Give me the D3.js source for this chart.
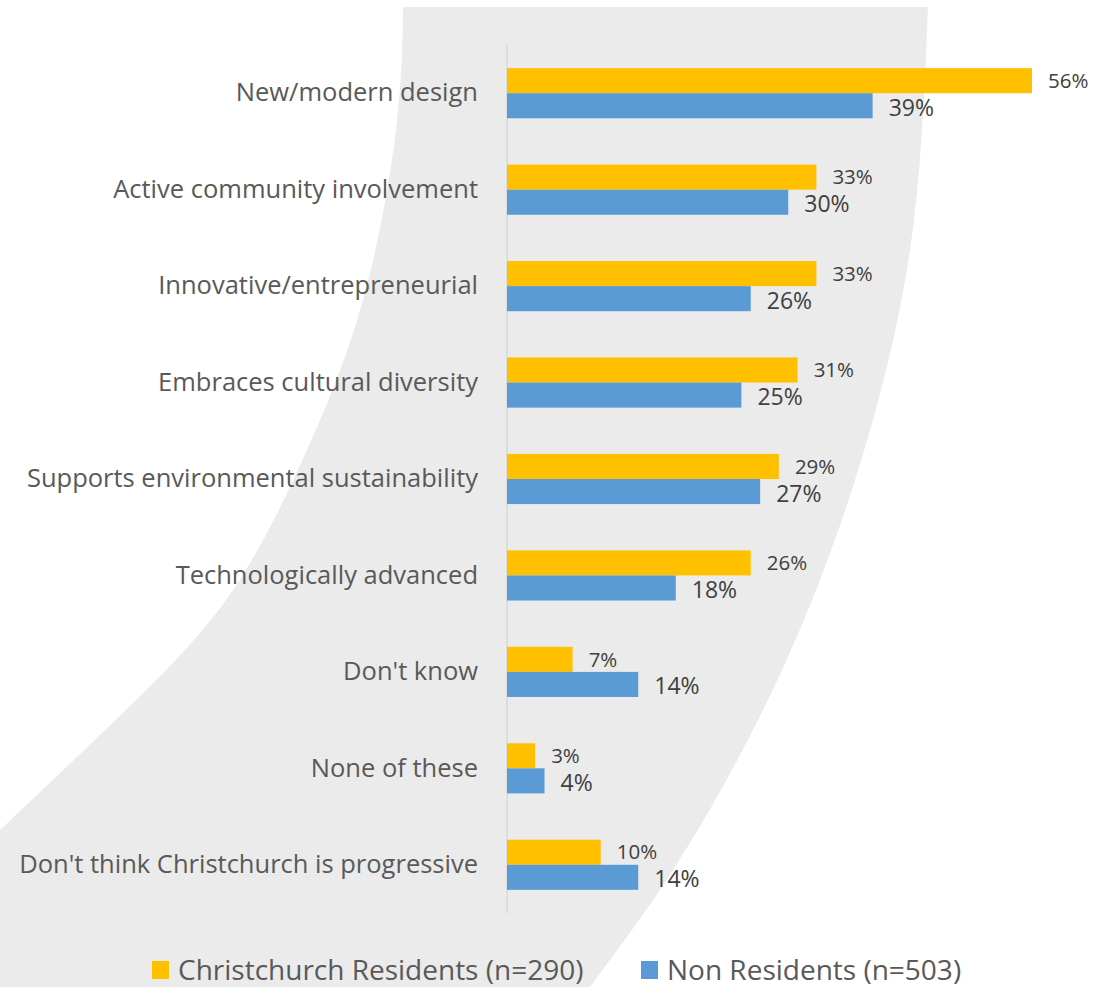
<!DOCTYPE html>
<html>
<head>
<meta charset="utf-8">
<script src="https://cdn.jsdelivr.net/npm/d3@7"></script>
<style>
  html, body { margin: 0; padding: 0; background: #ffffff; }
  svg { display: block; }
  text { font-family: "Open Sans", sans-serif; }
</style>
</head>
<body>
<svg id="chart" width="1115" height="987"></svg>
<script>
// Attributes associated with Christchurch being progressive
const categories = [
  "New/modern design",
  "Active community involvement",
  "Innovative/entrepreneurial",
  "Embraces cultural diversity",
  "Supports environmental sustainability",
  "Technologically advanced",
  "Don't know",
  "None of these",
  "Don't think Christchurch is progressive"
];
const residents = [56, 33, 33, 31, 29, 26, 7, 3, 10];
const nonResidents = [39, 30, 26, 25, 27, 18, 14, 4, 14];
const seriesNames = ["Christchurch Residents (n=290)", "Non Residents (n=503)"];
const seriesColors = ["#FFC000", "#5B9BD5"];

const svg = d3.select("#chart");

// Decorative grey swoosh behind the plot
const leftEdge = [[403, 7], [396, 130], [363, 300], [307, 450], [233, 590], [133, 703], [0, 830]];
const rightEdge = [[590, 987], [673, 870], [753, 730], [820, 580], [876, 409], [914, 220], [928, 7]];
const curve = d3.line().curve(d3.curveNatural);
const swooshPath = curve(leftEdge) + "L0,987" + curve(rightEdge).replace(/^M/, "L") + "Z";
svg.append("path")
  .attr("d", swooshPath)
  .attr("fill", "#EBEBEB");

// Scales
const x = d3.scaleLinear().domain([0, 56]).range([507, 1032]);
const y = d3.scaleBand().domain(categories).range([45, 913]).paddingInner(0.48).paddingOuter(0.24);
const sub = d3.scaleBand().domain([0, 1]).range([0, y.bandwidth()]);

// Category axis line and labels
svg.append("line")
  .attr("x1", x(0)).attr("x2", x(0))
  .attr("y1", 45).attr("y2", 913)
  .attr("stroke", "#D9D9D9").attr("stroke-width", 1.5);

const yAxis = d3.axisLeft(y).tickSize(0).tickPadding(29);
const axisG = svg.append("g")
  .attr("transform", `translate(${x(0)},0)`)
  .call(yAxis);
axisG.select(".domain").remove();
axisG.selectAll("text")
  .attr("fill", "#595959")
  .style("font-family", "'Open Sans', sans-serif")
  .style("font-size", "25.5px");

// Bars
const series = [residents, nonResidents];
const labelSize = ["20.5px", "23px"];
series.forEach((vals, s) => {
  const g = svg.append("g");
  g.selectAll("rect")
    .data(categories)
    .join("rect")
    .attr("x", x(0))
    .attr("y", d => y(d) + sub(s))
    .attr("width", (d, i) => x(vals[i]) - x(0))
    .attr("height", sub.bandwidth())
    .attr("fill", seriesColors[s]);
  g.selectAll("text")
    .data(categories)
    .join("text")
    .attr("x", (d, i) => x(vals[i]) + 16)
    .attr("y", d => y(d) + sub(s) + sub.bandwidth() / 2 + (s === 1 ? 2 : 0))
    .attr("dy", "0.35em")
    .attr("fill", "#404040")
    .style("font-size", labelSize[s])
    .text((d, i) => vals[i] + "%");
});

// Legend
const legendItems = [{x: 152}, {x: 641}];
legendItems.forEach((item, i) => {
  svg.append("rect")
    .attr("x", item.x).attr("y", 961)
    .attr("width", 17).attr("height", 18)
    .attr("fill", seriesColors[i]);
  svg.append("text")
    .attr("x", item.x + 26).attr("y", 970)
    .attr("dy", "0.35em")
    .attr("fill", "#595959")
    .style("font-size", "28px")
    .text(seriesNames[i]);
});
</script>
</body>
</html>
